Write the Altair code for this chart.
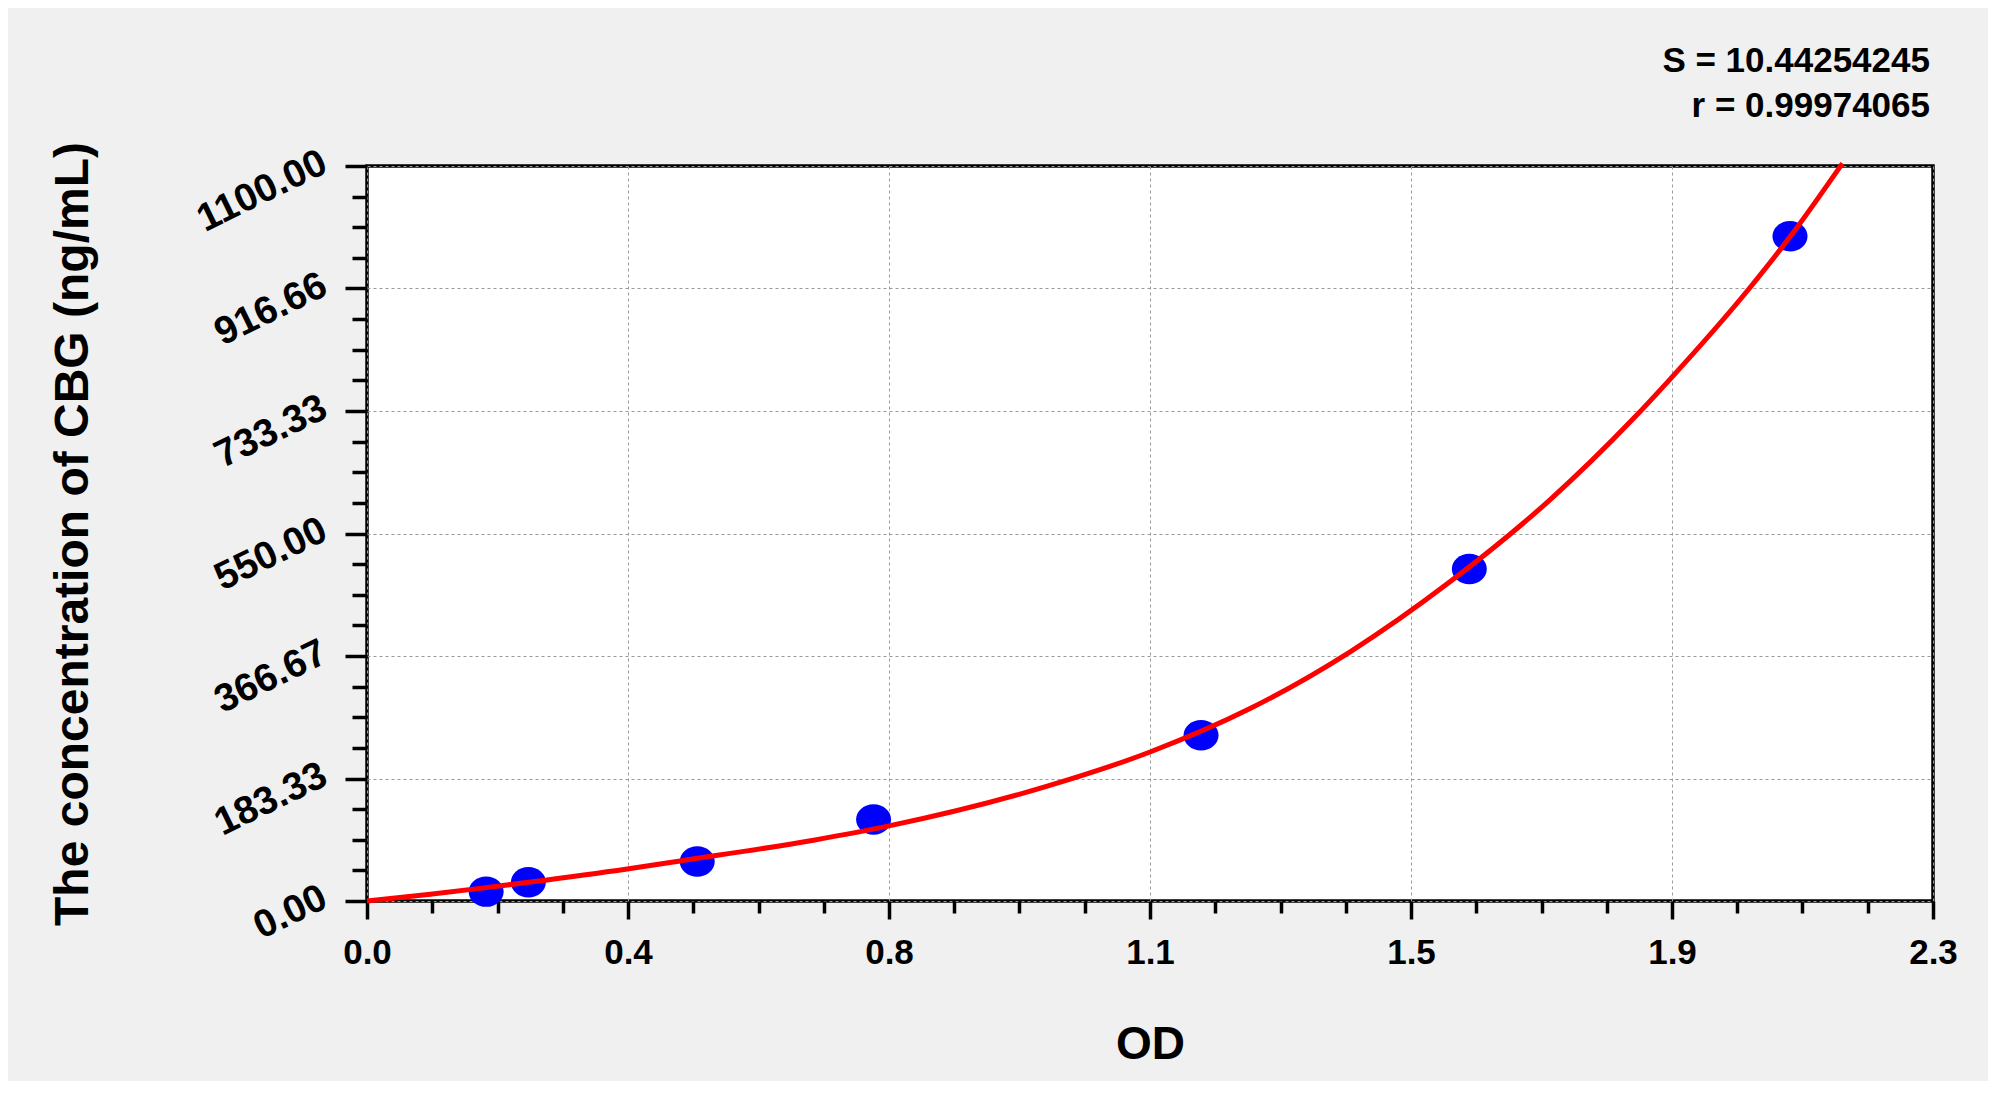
import altair as alt
import pandas as pd

# ---- data ----
pt_od = [0.175, 0.237, 0.485, 0.744, 1.225, 1.619, 2.090]
pt_conc = [14.0, 28.0, 59.0, 122.0, 248.0, 497.0, 995.0]

curve_od = [0.0, 0.093, 0.175, 0.237, 0.382, 0.460, 0.656, 0.765, 0.993, 1.150,
            1.297, 1.444, 1.591, 1.737, 1.860, 1.913, 2.028, 2.090, 2.167]
curve_conc = [0, 10, 20, 28, 48, 60, 91, 112, 170, 223,
              288, 373, 478, 600, 722, 780, 914, 994, 1104]

x_labels = ["0.0", "0.4", "0.8", "1.1", "1.5", "1.9", "2.3"]
y_labels = ["0.00", "183.33", "366.67", "550.00", "733.33", "916.66", "1100.00"]
stats_lines = ["S = 10.44254245", "r = 0.99974065"]

x_max = 2.3
y_max = 1100.0

# ---- tick setup (6 major intervals, 4 minor subdivisions each) ----
x_step = x_max / 6
y_step = y_max / 6
x_ticks = [round(i * x_step / 4, 6) for i in range(25)]
y_ticks = [round(i * y_step / 4, 6) for i in range(25)]

def major_test(step):
    return f"abs(datum.value / {step} - round(datum.value / {step})) < 0.001"

def label_expr(step, labels):
    arr = "[" + ",".join(f"'{l}'" for l in labels) + "]"
    return f"{major_test(step)} ? {arr}[round(datum.value / {step})] : ''"

FONT = "Liberation Sans"
W, H = 1566, 735

pts = pd.DataFrame({"od": pt_od, "conc": pt_conc})
curve = pd.DataFrame({"od": curve_od, "conc": curve_conc})
stats = pd.DataFrame({"txt": stats_lines, "row": [0, 1]})

x_scale = alt.Scale(domain=[0, x_max], nice=False, zero=False)
y_scale = alt.Scale(domain=[0, y_max], nice=False, zero=False)

x_axis = alt.Axis(
    values=x_ticks,
    labelExpr=label_expr(x_step, x_labels),
    labelOverlap=False, labelFlush=False, labelBound=False,
    labelFont=FONT, labelFontWeight="bold", labelFontSize=35, labelColor="black",
    labelPadding=16,
    tickSize={"condition": {"test": major_test(x_step), "value": 18}, "value": 12},
    tickWidth=3.5, tickColor="black",
    grid=True, gridDash=[3, 3], gridColor="#9a9a9a", gridWidth=1,
    gridOpacity={"condition": {"test": major_test(x_step), "value": 1}, "value": 0},
    domain=False,
    title="OD", titleFont=FONT, titleFontWeight="bold", titleFontSize=46,
    titleColor="black", titleX=W / 2, titleY=157, titleBaseline="alphabetic",
    titleAlign="center",
)

y_axis = alt.Axis(
    values=y_ticks,
    labelExpr=label_expr(y_step, y_labels),
    labelOverlap=False, labelFlush=False, labelBound=False,
    labelFont=FONT, labelFontWeight="bold", labelFontSize=39, labelColor="black",
    labelAngle=334, labelAlign="right", labelBaseline="middle",
    labelPadding=21, labelOffset=-6,
    tickSize={"condition": {"test": major_test(y_step), "value": 22}, "value": 15},
    tickWidth=3.5, tickColor="black",
    grid=True, gridDash=[3, 3], gridColor="#9a9a9a", gridWidth=1,
    gridOpacity={"condition": {"test": major_test(y_step), "value": 1}, "value": 0},
    domain=False,
    title="The concentration of CBG (ng/mL)", titleFont=FONT, titleFontWeight="bold",
    titleFontSize=48, titleColor="black", titleAngle=270,
    titleX=-280, titleY=H / 2, titleBaseline="alphabetic", titleAlign="center",
)

line = alt.Chart(curve).mark_line(color="#FF0000", strokeWidth=5, interpolate="monotone").encode(
    x=alt.X("od:Q", scale=x_scale, axis=x_axis),
    y=alt.Y("conc:Q", scale=y_scale, axis=y_axis),
)

ellipse = "M -1 0 A 1 0.87 0 1 1 1 0 A 1 0.87 0 1 1 -1 0 Z"
points = alt.Chart(pts).mark_point(
    shape=ellipse, filled=True, color="#0000FF", opacity=1, size=1225
).encode(
    x=alt.X("od:Q", scale=x_scale, axis=x_axis),
    y=alt.Y("conc:Q", scale=y_scale, axis=y_axis),
)

def stat_layer(row, ypix):
    return alt.Chart(stats).transform_filter(alt.datum.row == row).mark_text(
        font=FONT, fontWeight="bold", fontSize=35, color="black",
        align="right", baseline="alphabetic",
    ).encode(
        x=alt.value(W - 3),
        y=alt.value(ypix),
        text="txt:N",
    )

chart = alt.layer(
    points, line, stat_layer(0, -94), stat_layer(1, -49)
).properties(
    width=W, height=H,
    padding={"left": 359, "top": 158, "right": 55, "bottom": 180},
    autosize=alt.AutoSizeParams(type="none"),
    background="#F0F0F0",
).configure_view(
    fill="white", stroke="black", strokeWidth=3.5,
)

chart.save("out.html", embed_options={"renderer": "svg", "actions": False})
